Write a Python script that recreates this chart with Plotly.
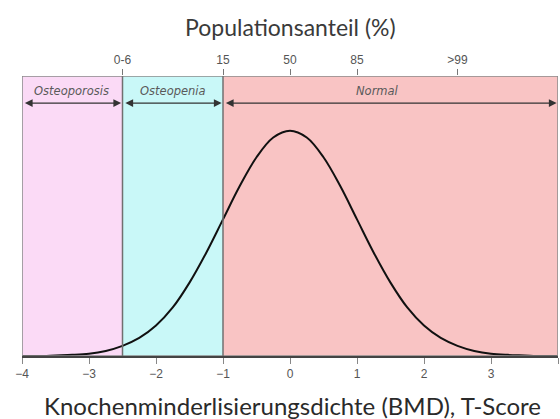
import plotly.graph_objects as go

# T-score grid and curve heights (density units)
t_score = [-4.0, -3.75, -3.5, -3.25, -3.0, -2.75, -2.5, -2.25, -2.0, -1.75, -1.5, -1.25, -1.0,
           -0.75, -0.5, -0.25, 0.0, 0.25, 0.5, 0.75, 1.0, 1.25, 1.5, 1.75, 2.0, 2.25, 2.5,
           2.75, 3.0, 3.25, 3.5, 3.75, 4.0]
density = [0.000, 0.000, 0.001, 0.002, 0.004, 0.009, 0.018, 0.032, 0.054, 0.086, 0.130, 0.183, 0.242,
           0.301, 0.352, 0.387, 0.399, 0.387, 0.352, 0.301, 0.242, 0.183, 0.130, 0.086, 0.054, 0.032, 0.018,
           0.009, 0.004, 0.002, 0.001, 0.000, 0.000]

# regions
region_names = ["Osteoporosis", "Osteopenia", "Normal"]
region_start = [-4.0, -2.5, -1.0]
region_end = [-2.5, -1.0, 4.0]
region_label_x = [-3.26, -1.75, 1.3]
region_colors = ["#fbdaf6", "#c9f8f8", "#f9c4c4"]

bottom_ticks = [-4, -3, -2, -1, 0, 1, 2, 3, 4]
bottom_labels = ["\u22124", "\u22123", "\u22122", "\u22121", "0", "1", "2", "3", "4"]
top_ticks = [-2.5, -1, 0, 1, 2.5]
top_labels = ["0-6", "15", "50", "85", ">99"]

YMAX = 0.496

fig = go.Figure()
fig.add_trace(go.Scatter(x=t_score, y=density, mode="lines", line=dict(color="#111111", width=2, shape="spline"),
                         showlegend=False, hoverinfo="skip"))
fig.add_trace(go.Scatter(x=[None], y=[None], xaxis="x2", showlegend=False))

shapes = []
for s, e, c in zip(region_start, region_end, region_colors):
    shapes.append(dict(type="rect", xref="x", yref="y", x0=s, x1=e, y0=0, y1=YMAX,
                       fillcolor=c, line=dict(width=0), layer="below"))
shapes.append(dict(type="rect", xref="x", yref="y", x0=-4, x1=4, y0=0, y1=YMAX,
                   fillcolor="rgba(0,0,0,0)", line=dict(color="#8a8a8a", width=1.5), layer="above"))
for xv in [-2.5, -1.0]:
    shapes.append(dict(type="line", xref="x", yref="y", x0=xv, x1=xv, y0=0, y1=YMAX,
                       line=dict(color="#707070", width=1.5), layer="above"))

annotations = []
arrow_y = 0.448
for name, s, e, lx in zip(region_names, region_start, region_end, region_label_x):
    annotations.append(dict(x=e - 0.02, y=arrow_y, ax=s + 0.02, ay=arrow_y, xref="x", yref="y",
                            axref="x", ayref="y", text="", showarrow=True, arrowhead=2,
                            arrowside="end+start", arrowsize=1.3, arrowwidth=1.2, arrowcolor="#333333"))
    annotations.append(dict(x=lx, y=0.47, xref="x", yref="y", text="<i>" + name + "</i>", showarrow=False,
                            font=dict(family="DejaVu Sans", size=11.5, color="#5a5a5a")))
annotations.append(dict(x=0.5, y=1.175, xref="paper", yref="paper", yanchor="middle",
                        text="Populationsanteil (%)",
                        showarrow=False, font=dict(family="Lato", size=23, color="#3a3a3a")))
annotations.append(dict(x=0.505, y=-0.175, xref="paper", yref="paper", yanchor="middle",
                        text="Knochenminderlisierungsdichte (BMD), T-Score",
                        showarrow=False, font=dict(family="Lato", size=24, color="#2a2a2a")))

fig.update_layout(
    width=560, height=419,
    margin=dict(l=22, r=2, t=76, b=63, pad=0, autoexpand=False),
    paper_bgcolor="white", plot_bgcolor="white",
    shapes=shapes, annotations=annotations,
    xaxis=dict(range=[-4, 4], tickvals=bottom_ticks, ticktext=bottom_labels, ticks="outside",
               ticklen=6, tickcolor="#888888", showgrid=False, zeroline=False, automargin=False,
               showline=True, linecolor="#444444", linewidth=1.5,
               tickfont=dict(family="Liberation Sans", size=12, color="#555555")),
    xaxis2=dict(range=[-4, 4], overlaying="x", side="top", tickvals=top_ticks, ticktext=top_labels,
                ticks="outside", ticklen=6, tickcolor="#777777", showgrid=False, zeroline=False,
                automargin=False, showline=False,
                tickfont=dict(family="Liberation Sans", size=12, color="#555555")),
    yaxis=dict(range=[0, YMAX], visible=False, showgrid=False, zeroline=False, automargin=False),
)

fig.write_html("out.html", config={"displayModeBar": False},
               post_script="document.body.style.margin='0';document.body.style.overflow='hidden';")
